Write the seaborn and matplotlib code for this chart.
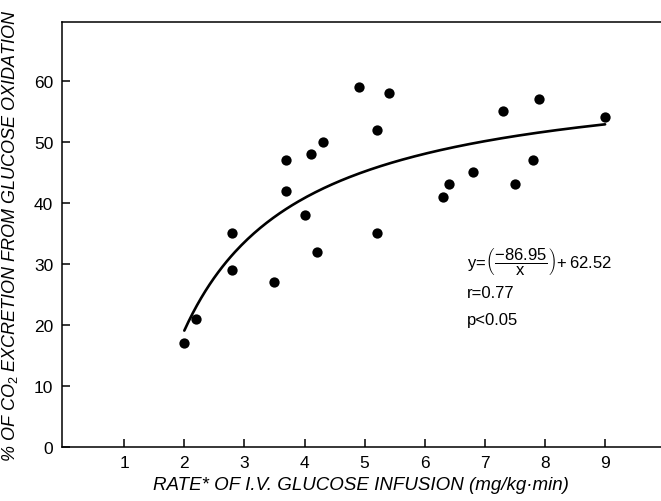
import numpy as np
import pandas as pd
import seaborn as sns
import matplotlib.pyplot as plt

# Infusion rate (mg/kg.min) and % of CO2 excretion from glucose oxidation
rate = [2.0, 2.2, 2.8, 2.8, 3.5, 3.7, 3.7, 4.0, 4.1, 4.2, 4.3, 4.9,
        5.2, 5.2, 5.4, 6.3, 6.4, 6.8, 7.3, 7.5, 7.8, 7.9, 9.0]
pct_co2 = [17, 21, 35, 29, 27, 47, 42, 38, 48, 32, 50, 59,
           35, 52, 58, 41, 43, 45, 55, 43, 47, 57, 54]

# fitted curve y = a/x + b, as printed on the chart
fit_a = -86.95
fit_b = 62.52
fit_range = (2.0, 9.0)

x_ticks = [1, 2, 3, 4, 5, 6, 7, 8, 9]
y_ticks = [0, 10, 20, 30, 40, 50, 60]

sns.set_style("ticks")
plt.rcParams['font.family'] = ['Liberation Sans', 'DejaVu Sans']
plt.rcParams['mathtext.fontset'] = 'custom'
plt.rcParams['mathtext.rm'] = 'Liberation Sans'
plt.rcParams['mathtext.it'] = 'Liberation Sans:italic'
for k in ['text.color', 'axes.labelcolor', 'xtick.color', 'ytick.color', 'axes.edgecolor']:
    plt.rcParams[k] = 'black'

fig = plt.figure(figsize=(6.61, 5.02), dpi=100)
ax = fig.add_axes([0.0933, 0.108, 0.9067, 0.847])

pts = pd.DataFrame({'rate': rate, 'pct': pct_co2})
sns.scatterplot(data=pts, x='rate', y='pct', ax=ax, color='black',
                s=55, edgecolor='black', linewidth=0, zorder=3)

xf = np.linspace(fit_range[0], fit_range[1], 200)
curve = pd.DataFrame({'x': xf, 'y': fit_a / xf + fit_b})
sns.lineplot(data=curve, x='x', y='y', ax=ax, color='black', linewidth=1.9)

ax.set_xlim(-0.04, 9.93)
ax.set_ylim(0, 69.7)
ax.set_xticks(x_ticks)
ax.set_yticks(y_ticks)
ax.tick_params(direction='in', length=6, width=1.1, labelsize=12.5, pad=6)
sns.despine(ax=ax, right=True, top=False)
for s in ['left', 'bottom', 'top']:
    ax.spines[s].set_linewidth(1.1)

ax.set_xlabel('RATE* OF I.V. GLUCOSE INFUSION (mg/kg\u00b7min)',
              fontsize=13.5, style='italic', labelpad=4)
ax.set_ylabel('% OF CO$_2$ EXCRETION FROM GLUCOSE OXIDATION',
              fontsize=13, style='italic', labelpad=10)

ax.text(6.7, 30.6, r'$\mathrm{y\!=\!\left(\dfrac{-86.95}{x}\right)\!+62.52}$',
        fontsize=12, va='center', ha='left')
ax.text(6.7, 25.3, 'r=0.77', fontsize=12, va='center', ha='left')
ax.text(6.7, 20.9, 'p<0.05', fontsize=12, va='center', ha='left')

fig.savefig('out.png', dpi=100)
